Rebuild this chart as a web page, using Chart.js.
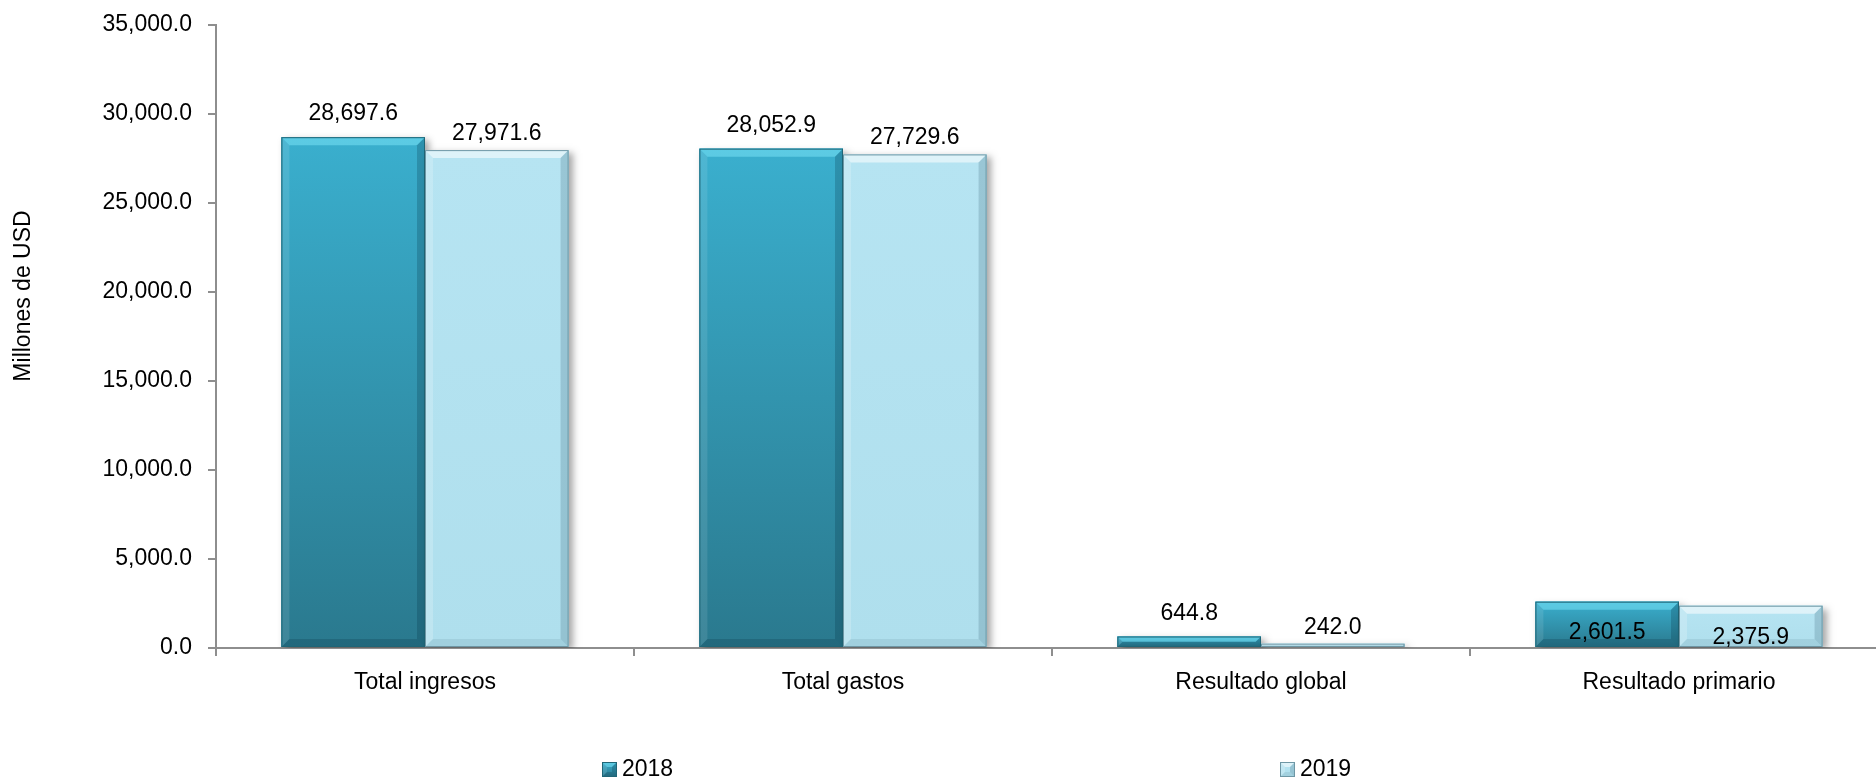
<!DOCTYPE html>
<html>
<head>
<meta charset="utf-8">
<script src="https://cdn.jsdelivr.net/npm/chart.js@4.4.1/dist/chart.umd.min.js"></script>
<style>
  html, body { margin: 0; padding: 0; background: #ffffff; }
  #wrap { position: relative; width: 1876px; height: 781px; }
</style>
</head>
<body>
<div id="wrap"><canvas id="c" width="1876" height="781"></canvas></div>
<script>
// ---- data ----
const categories = ['Total ingresos', 'Total gastos', 'Resultado global', 'Resultado primario'];
const seriesNames = ['2018', '2019'];
const values2018 = [28697.6, 28052.9, 644.8, 2601.5];
const values2019 = [27971.6, 27729.6, 242.0, 2375.9];
const yAxisTitle = 'Millones de USD';
const yMin = 0, yMax = 35000, yStep = 5000;

// ---- styles ----
const FONT = "'Liberation Sans Narrow', 'Arial Narrow', 'Liberation Sans', Arial, sans-serif";
const FSIZE = 23;
const AXIS_COLOR = '#8e8e8e';
const EXTRA_RIGHT = 12; // plot area runs slightly past the right canvas edge
const palettes = [
  { base: '#32a2c0', top: '#3aafce', bottom: '#2a798e', edge: '#1f6677',
    bevTop: 'rgba(120,225,245,0.55)', bevLeft: 'rgba(255,255,255,0.10)',
    bevRight: 'rgba(0,40,60,0.22)', bevBottom: 'rgba(0,30,45,0.18)' },
  { base: '#b3e2f0', top: '#b6e4f2', bottom: '#afdfed', edge: '#6e97a5',
    bevTop: 'rgba(255,255,255,0.55)', bevLeft: 'rgba(255,255,255,0.20)',
    bevRight: 'rgba(40,80,100,0.20)', bevBottom: 'rgba(40,80,100,0.10)' }
];

function fmt(v) {
  return Number(v).toLocaleString('en-US', { minimumFractionDigits: 1, maximumFractionDigits: 1 });
}

function poly(ctx, pts, color) {
  ctx.beginPath();
  ctx.moveTo(pts[0][0], pts[0][1]);
  for (let i = 1; i < pts.length; i++) ctx.lineTo(pts[i][0], pts[i][1]);
  ctx.closePath();
  ctx.fillStyle = color;
  ctx.fill();
}

function bevelRect(ctx, l, t, r, b, pal, bev, shadow) {
  const w = r - l, h = b - t;
  if (h <= 0 || w <= 0) return;
  const s = Math.min(bev, h / 2, w / 2);
  ctx.save();
  if (shadow) {
    ctx.shadowColor = 'rgba(0,0,0,0.35)';
    ctx.shadowBlur = 7;
    ctx.shadowOffsetX = 4;
    ctx.shadowOffsetY = 3;
  }
  ctx.fillStyle = pal.base;
  ctx.fillRect(l, t, w, h);
  ctx.restore();
  const g = ctx.createLinearGradient(0, t, 0, b);
  g.addColorStop(0, pal.top);
  g.addColorStop(1, pal.bottom);
  ctx.fillStyle = g;
  ctx.fillRect(l, t, w, h);
  poly(ctx, [[l, t], [r, t], [r - s, t + s], [l + s, t + s]], pal.bevTop);
  poly(ctx, [[l, t], [l + s, t + s], [l + s, b - s], [l, b]], pal.bevLeft);
  poly(ctx, [[r, t], [r, b], [r - s, b - s], [r - s, t + s]], pal.bevRight);
  poly(ctx, [[l, b], [l + s, b - s], [r - s, b - s], [r, b]], pal.bevBottom);
  ctx.strokeStyle = pal.edge;
  ctx.lineWidth = 1;
  ctx.strokeRect(l + 0.5, t + 0.5, w - 1, h - 1);
}

// stretch the x scale a little past the right canvas edge
const widenX = {
  id: 'widenX',
  afterLayout(chart) {
    const s = chart.scales.x;
    s.right += EXTRA_RIGHT;
    s.width += EXTRA_RIGHT;
    s.configure();
    chart.chartArea.right += EXTRA_RIGHT;
    chart.chartArea.width += EXTRA_RIGHT;
  }
};

// bevel bars + data labels
const bevelBars = {
  id: 'bevelBars',
  afterDatasetsDraw(chart) {
    const ctx = chart.ctx;
    const area = chart.chartArea;
    ctx.save();
    ctx.beginPath();
    ctx.rect(area.left, 0, area.right - area.left, area.bottom);
    ctx.clip();
    chart.data.datasets.forEach((ds, di) => {
      const meta = chart.getDatasetMeta(di);
      meta.data.forEach(el => {
        const p = el.getProps(['x', 'y', 'base', 'width'], true);
        bevelRect(ctx, p.x - p.width / 2, p.y, p.x + p.width / 2, p.base, palettes[di], 8, true);
      });
    });
    ctx.restore();
    // data labels
    ctx.save();
    ctx.font = FSIZE + 'px ' + FONT;
    ctx.fillStyle = '#000';
    ctx.textAlign = 'center';
    ctx.textBaseline = 'alphabetic';
    const gaps = [17, 10];
    const insideGap = [8, 3];
    chart.data.datasets.forEach((ds, di) => {
      const meta = chart.getDatasetMeta(di);
      meta.data.forEach((el, i) => {
        const p = el.getProps(['x', 'y', 'base'], true);
        let yb;
        if (chart.data.labels[i] === 'Resultado primario') yb = p.base - insideGap[di];
        else yb = p.y - gaps[di];
        ctx.fillText(fmt(ds.data[i]), p.x, yb);
      });
    });
    ctx.restore();
  }
};

// y-axis title + legend
const extras = {
  id: 'extras',
  afterDraw(chart) {
    const ctx = chart.ctx;
    ctx.save();
    ctx.font = FSIZE + 'px ' + FONT;
    ctx.fillStyle = '#000';
    // y title
    ctx.save();
    ctx.translate(24, 296);
    ctx.rotate(-Math.PI / 2);
    ctx.textAlign = 'center';
    ctx.textBaseline = 'middle';
    ctx.fillText(yAxisTitle, 0, 0);
    ctx.restore();
    // legend
    const boxX = [602, 1280];
    const cy = 769;
    chart.data.datasets.forEach((ds, di) => {
      bevelRect(ctx, boxX[di], cy - 7, boxX[di] + 15, cy + 8, palettes[di], 5, false);
      ctx.fillStyle = '#000';
      ctx.textAlign = 'left';
      ctx.textBaseline = 'middle';
      ctx.fillText(ds.label, boxX[di] + 20, cy + 1);
    });
    ctx.restore();
  }
};

new Chart(document.getElementById('c'), {
  type: 'bar',
  data: {
    labels: categories,
    datasets: [
      { label: seriesNames[0], data: values2018, backgroundColor: palettes[0].base,
        categoryPercentage: 0.687, barPercentage: 1.0 },
      { label: seriesNames[1], data: values2019, backgroundColor: palettes[1].base,
        categoryPercentage: 0.687, barPercentage: 1.0 }
    ]
  },
  options: {
    responsive: false,
    animation: false,
    devicePixelRatio: 1,
    layout: { padding: { left: 0, top: 25, right: 0, bottom: 0 } },
    plugins: {
      legend: { display: false },
      tooltip: { enabled: false },
      title: { display: false }
    },
    scales: {
      x: {
        grid: { display: true, offset: true, drawOnChartArea: false, drawTicks: true,
                tickLength: 8, color: AXIS_COLOR, lineWidth: 2 },
        border: { display: true, color: AXIS_COLOR, width: 2 },
        ticks: { color: '#000', font: { family: FONT, size: FSIZE }, padding: 13, maxRotation: 0 },
        afterFit(scale) { scale.height = 133; scale.paddingLeft = 0; scale.paddingRight = 0; }
      },
      y: {
        min: yMin, max: yMax,
        grid: { display: true, drawOnChartArea: false, drawTicks: true,
                tickLength: 8, color: AXIS_COLOR, lineWidth: 2 },
        border: { display: true, color: AXIS_COLOR, width: 2 },
        ticks: { stepSize: yStep, color: '#000', font: { family: FONT, size: FSIZE }, padding: 16,
                 callback: v => fmt(v) },
        afterFit(scale) { scale.width = 216; scale.paddingTop = 0; scale.paddingBottom = 0; }
      }
    }
  },
  plugins: [widenX, bevelBars, extras]
});
</script>
</body>
</html>
